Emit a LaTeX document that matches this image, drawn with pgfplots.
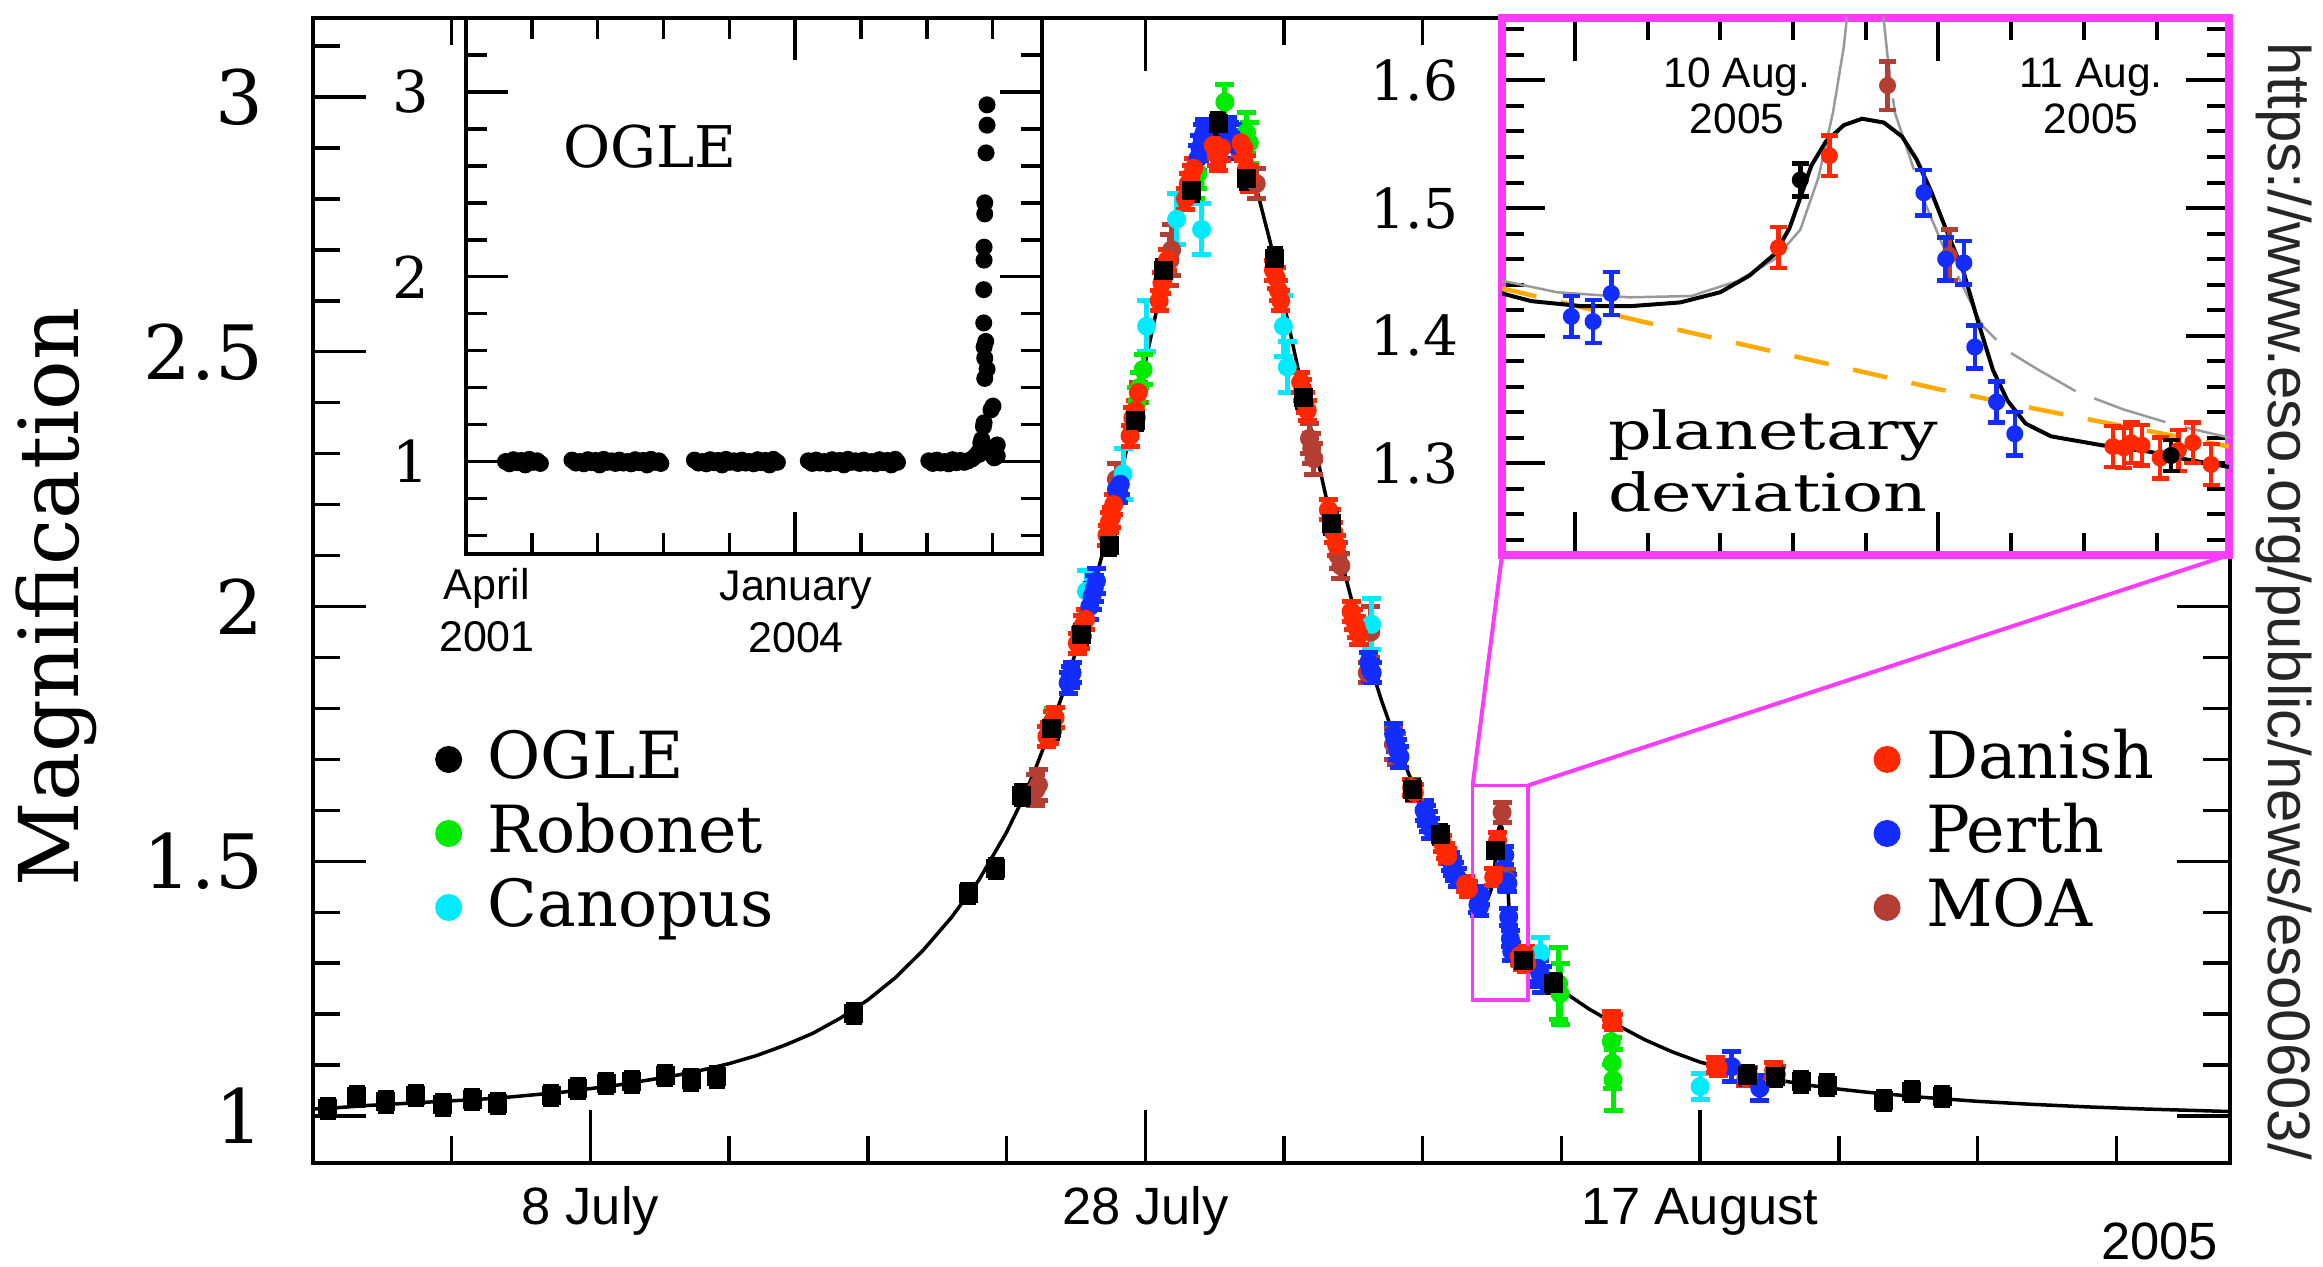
\documentclass[border=0pt]{standalone}
\usepackage{fontspec}
\setmainfont{DejaVu Serif}
\newfontfamily\sans{Liberation Sans}
\newfontfamily\wideserif[FakeStretch=1.3]{DejaVu Serif}
\usepackage{pgfplots}
\usepackage{pgfplotstable}
\pgfplotsset{compat=1.18}
\newcommand{\fsz}[2]{\fontsize{#1}{#2}\selectfont}
\definecolor{cDan}{RGB}{255,40,0}
\definecolor{cPer}{RGB}{20,45,255}
\definecolor{cMOA}{RGB}{180,62,52}
\definecolor{cRob}{RGB}{0,235,0}
\definecolor{cCan}{RGB}{0,235,255}
\definecolor{cPink}{RGB}{250,60,250}
\definecolor{cOra}{RGB}{255,170,0}
\pgfplotsset{
  /pgf/number format/assume math mode=true,
  ds/.style n args={5}{only marks, mark=#2, mark size=#3, color=#1,
    mark options={solid, fill=#1, draw=#1},
    error bars/.cd, y dir=both, y explicit,
    error bar style={line width=#5, color=#1, solid},
    error mark options={rotate=90, mark size=#4, line width=#5, color=#1}},
}
\pgfplotstableread{
x y
550 1.014
551 1.017
552 1.021
553 1.024
554 1.027
555 1.030
556 1.033
557 1.037
558 1.042
559 1.047
560 1.054
561 1.061
562 1.070
563 1.079
564 1.090
565 1.103
566 1.119
567 1.139
568 1.162
569 1.192
570 1.228
571 1.272
572 1.326
573 1.389
574 1.463
575 1.557
575.5 1.613
576 1.676
576.5 1.747
577 1.825
577.5 1.912
578 2.008
578.5 2.113
579 2.228
579.5 2.351
580 2.478
580.5 2.605
581 2.725
581.5 2.829
582 2.906
582.4 2.940
582.75 2.951
583.1 2.938
583.5 2.900
584 2.822
584.5 2.716
585 2.595
585.5 2.468
586 2.341
586.5 2.219
587 2.104
587.5 2.000
588 1.905
588.5 1.818
589 1.741
589.5 1.671
590 1.609
590.5 1.553
591 1.503
591.5 1.458
591.8 1.433
591.88 1.427
592.02 1.423
592.15 1.423
592.29 1.426
592.40 1.434
592.48 1.447
592.55 1.464
592.59 1.484
592.62 1.508
592.65 1.533
592.69 1.552
592.74 1.565
592.79 1.570
592.85 1.567
592.90 1.556
592.94 1.538
592.98 1.513
593.02 1.484
593.07 1.449
593.11 1.410
593.15 1.373
593.19 1.349
593.24 1.331
593.31 1.321
593.45 1.314
593.58 1.309
593.68 1.303
593.80 1.297
594 1.288
594.5 1.268
595 1.247
596 1.210
597 1.179
598 1.150
599 1.126
600 1.106
601 1.092
602 1.080
603 1.069
604 1.060
605 1.053
606 1.047
607 1.042
608 1.037
610 1.029
612 1.023
614 1.018
616 1.014
619.1 1.009
}\curve
\pgfplotstableread{
x y e
550.53 1.015 0.018
551.58 1.038 0.018
552.63 1.028 0.018
553.71 1.041 0.018
554.68 1.022 0.018
555.74 1.033 0.018
556.66 1.025 0.018
558.59 1.041 0.018
559.55 1.054 0.018
560.57 1.064 0.018
561.49 1.067 0.018
562.69 1.080 0.018
563.63 1.071 0.018
564.55 1.077 0.018
569.49 1.202 0.018
573.61 1.437 0.018
574.61 1.486 0.018
575.54 1.630 0.018
576.62 1.760 0.018
577.70 1.945 0.018
578.70 2.120 0.018
579.65 2.365 0.018
580.65 2.660 0.02
581.67 2.817 0.02
582.63 2.948 0.02
583.65 2.840 0.02
584.67 2.683 0.02
585.70 2.411 0.02
586.70 2.163 0.02
589.65 1.640 0.018
590.63 1.552 0.018
592.62 1.522 0.013
593.64 1.306 0.012
594.72 1.260 0.018
601.69 1.080 0.018
602.70 1.078 0.018
603.64 1.067 0.018
604.58 1.061 0.018
606.61 1.031 0.018
607.63 1.048 0.018
608.72 1.038 0.018
}\ogle
\pgfplotstableread{
x y e
576.45 1.745 0.02
576.55 1.752 0.02
576.65 1.774 0.02
576.75 1.782 0.02
577.55 1.928 0.02
577.65 1.937 0.02
577.75 1.962 0.02
577.85 1.975 0.02
578.62 2.140 0.02
578.70 2.165 0.02
578.78 2.175 0.02
578.86 2.200 0.02
579.45 2.335 0.02
579.55 2.370 0.02
579.65 2.385 0.02
579.75 2.420 0.02
580.50 2.600 0.02
580.60 2.635 0.02
580.70 2.650 0.02
580.80 2.680 0.02
581.45 2.800 0.02
581.55 2.830 0.02
581.65 2.845 0.02
581.75 2.860 0.02
582.45 2.905 0.025
582.55 2.890 0.025
582.65 2.880 0.025
582.75 2.900 0.025
583.45 2.910 0.025
583.55 2.900 0.025
583.65 2.860 0.025
583.75 2.840 0.025
584.62 2.660 0.02
584.72 2.645 0.02
584.80 2.620 0.02
584.88 2.600 0.02
585.60 2.440 0.02
585.68 2.425 0.02
585.76 2.400 0.02
585.84 2.385 0.02
586.60 2.190 0.02
586.70 2.170 0.02
586.80 2.145 0.02
586.90 2.120 0.02
587.42 1.990 0.02
587.50 1.975 0.02
587.60 1.960 0.02
587.70 1.945 0.02
589.60 1.645 0.015
589.70 1.635 0.015
590.72 1.535 0.015
590.82 1.520 0.015
590.90 1.510 0.015
591.55 1.455 0.015
591.65 1.445 0.015
592.56 1.469 0.016
592.70 1.541 0.016
593.48 1.313 0.016
593.51 1.312 0.016
593.53 1.316 0.016
593.56 1.314 0.016
593.61 1.304 0.016
593.66 1.310 0.016
593.70 1.316 0.016
593.75 1.299 0.016
596.80 1.190 0.015
596.86 1.185 0.015
600.55 1.100 0.015
600.65 1.095 0.015
601.65 1.075 0.015
601.75 1.080 0.015
602.65 1.090 0.015
602.75 1.082 0.015
}\danish
\pgfplotstableread{
x y e
577.22 1.850 0.02
577.30 1.862 0.02
577.36 1.870 0.02
578.00 2.000 0.025
578.08 2.020 0.025
578.16 2.035 0.025
578.24 2.050 0.025
578.96 2.230 0.02
579.04 2.225 0.02
579.10 2.240 0.02
581.90 2.880 0.025
581.97 2.900 0.025
582.05 2.920 0.025
582.12 2.930 0.025
582.95 2.935 0.025
583.05 2.925 0.025
583.15 2.920 0.025
583.25 2.905 0.025
588.05 1.890 0.02
588.12 1.875 0.02
588.18 1.870 0.02
588.95 1.750 0.02
589.02 1.735 0.02
589.10 1.720 0.02
589.18 1.705 0.02
590.05 1.600 0.02
590.12 1.590 0.02
590.20 1.578 0.02
590.28 1.565 0.02
591.00 1.500 0.018
591.08 1.490 0.018
591.16 1.480 0.018
591.24 1.468 0.018
591.99 1.415 0.016
592.05 1.411 0.017
592.10 1.433 0.017
592.96 1.512 0.018
593.02 1.460 0.017
593.07 1.457 0.017
593.10 1.391 0.017
593.16 1.348 0.016
593.21 1.323 0.017
594.15 1.290 0.025
594.22 1.280 0.025
594.30 1.268 0.025
601.14 1.097 0.03
602.15 1.055 0.025
}\perth
\pgfplotstableread{
x y e
576.70 1.780 0.02
579.70 2.400 0.03
579.80 2.430 0.03
579.92 2.465 0.03
581.80 2.830 0.03
581.90 2.850 0.03
582.87 2.990 0.035
583.65 2.930 0.04
583.75 2.910 0.04
594.90 1.260 0.07
594.95 1.240 0.06
596.80 1.146 0.045
596.83 1.104 0.05
596.86 1.071 0.06
}\robonet
\pgfplotstableread{
x y e
577.88 2.030 0.04
579.20 2.260 0.05
580.05 2.550 0.05
581.13 2.760 0.05
582.03 2.740 0.05
584.98 2.550 0.06
585.12 2.470 0.05
588.16 1.965 0.05
594.25 1.320 0.03
600.00 1.058 0.025
}\canopus
\pgfplotstableread{
x y e
576.05 1.640 0.03
576.15 1.650 0.03
578.96 2.250 0.03
580.89 2.680 0.05
580.95 2.700 0.05
584.00 2.830 0.03
585.92 2.330 0.03
586.00 2.310 0.03
586.08 2.290 0.03
586.95 2.100 0.025
587.05 2.080 0.025
588.00 1.870 0.02
588.13 1.950 0.05
588.95 1.730 0.03
589.05 1.720 0.03
592.86 1.596 0.019
593.03 1.463 0.02
}\moa
\pgfplotstableread{
x y
2120 1.000
2132 0.988
2144 1.010
2156 0.994
2168 1.006
2180 0.982
2192 1.012
2204 0.996
2216 1.004
2226 0.990
2322 1.008
2334 0.992
2346 1.000
2358 0.988
2370 1.010
2382 0.994
2394 1.006
2406 0.982
2418 1.012
2430 0.996
2442 1.004
2454 0.990
2466 1.008
2478 0.992
2490 1.000
2502 0.988
2514 1.010
2526 0.994
2538 1.006
2550 0.982
2562 1.012
2574 0.996
2586 1.004
2592 0.990
2694 1.008
2706 0.992
2718 1.000
2730 0.988
2742 1.010
2754 0.994
2766 1.006
2778 0.982
2790 1.012
2802 0.996
2814 1.004
2826 0.990
2838 1.008
2850 0.992
2862 1.000
2874 0.988
2886 1.010
2898 0.994
2910 1.006
2922 0.982
2934 1.012
2946 0.996
3040 1.004
3052 0.990
3064 1.008
3076 0.992
3088 1.000
3100 0.988
3112 1.010
3124 0.994
3136 1.006
3148 0.982
3160 1.012
3172 0.996
3184 1.004
3196 0.990
3208 1.008
3220 0.992
3232 1.000
3244 0.988
3256 1.010
3268 0.994
3280 1.006
3292 0.982
3304 1.012
3311 0.996
3406 1.004
3418 0.990
3430 1.008
3442 0.992
3454 1.000
3466 0.988
3478 1.010
3490 0.994
3502 1.006
3514 0.996
3526 1.004
3538 1.015
3548 1.030
3557 1.05
3560 1.04
3564 1.10
3567 1.12
3570 1.08
3572 1.19
3573 1.75
3573 1.93
3574 1.21
3574 1.62
3574 2.09
3574 2.16
3576 1.45
3576 1.56
3576 2.34
3576 2.40
3579 1.65
3580 2.67
3583 1.50
3583 2.82
3583 2.93
3595 1.28
3601 1.30
3601 1.07
3601 1.03
3605 1.02
3610 1.05
3614 1.09
3614 1.03
}\oglelong
\begin{document}
\begin{tikzpicture}
\useasboundingbox (0,0) rectangle (464.6pt,253.4pt);
% ---------------- main axis
\begin{axis}[
  at={(62.6pt,20.8pt)}, anchor=south west, scale only axis,
  width=383.4pt, height=229pt,
  xmin=550, xmax=619.1, ymin=0.908, ymax=3.155,
  axis line style={line width=0.75pt},
  tick style={line width=0.7pt, black},
  tick align=inside, tick pos=both,
  major tick length=10.6pt, minor tick length=5.4pt,
  xtick={560,580,600}, xticklabels={8 July,28 July,17 August},
  minor xtick={555,565,570,575,585,590,595,605,610,615},
  ytick={1,1.5,2,2.5,3},
  minor ytick={1.1,1.2,1.3,1.4,1.6,1.7,1.8,1.9,2.1,2.2,2.3,2.4,2.6,2.7,2.8,2.9,3.1},
  xticklabel style={font=\sans\fsz{10.5}{12}, anchor=base, inner sep=0pt, yshift=-12.4pt},
  yticklabel style={font=\fsz{15}{18}, anchor=east, inner sep=0pt, xshift=-9.8pt},
]
\addplot[black, line width=0.7pt] table[x=x,y=y]{\curve};
\addplot[ds={cMOA}{*}{1.7pt}{1.9pt}{1pt}] table[x=x,y=y,y error=e]{\moa};
\addplot[ds={cCan}{*}{1.7pt}{1.9pt}{1pt}] table[x=x,y=y,y error=e]{\canopus};
\addplot[ds={cRob}{*}{1.7pt}{1.9pt}{1pt}] table[x=x,y=y,y error=e]{\robonet};
\addplot[ds={cPer}{*}{1.7pt}{1.9pt}{1pt}] table[x=x,y=y,y error=e]{\perth};
\addplot[ds={cDan}{*}{1.7pt}{1.9pt}{1pt}] table[x=x,y=y,y error=e]{\danish};
\addplot[ds={black}{square*}{1.7pt}{1.6pt}{1pt}] table[x=x,y=y,y error=e]{\ogle};
\draw[cPink, line width=0.7pt] (axis cs:591.8,1.228) rectangle (axis cs:593.8,1.649);
\coordinate (hl1) at (axis cs:591.8,1.649);
\coordinate (hl2) at (axis cs:593.8,1.649);
\end{axis}
% ---------------- OGLE long-term inset
\begin{axis}[
  at={(93.2pt,142.6pt)}, anchor=south west, scale only axis,
  width=115.2pt, height=107.2pt,
  xmin=2000, xmax=3750, ymin=0.5, ymax=3.4,
  axis background/.style={fill=white},
  axis line style={line width=0.7pt},
  tick style={line width=0.7pt, black},
  tick align=inside, tick pos=both,
  major tick length=8.4pt, minor tick length=4.2pt,
  xtick={3000}, xticklabels={{}},
  minor xtick={2200,2400,2600,2800,3200,3400,3600},
  ytick={1,2,3},
  minor ytick={0.6,0.8,1.2,1.4,1.6,1.8,2.2,2.4,2.6,2.8,3.2},
  yticklabel style={font=\fsz{11.5}{14}, anchor=east, inner sep=0pt, xshift=-7.2pt},
]
\addplot[only marks, mark=*, mark size=1.5pt, black] table[x=x,y=y]{\oglelong};
\node[font=\fsz{11.5}{14}] at (axis cs:2559,2.705) {OGLE};
\end{axis}
% ---------------- planetary deviation inset
\begin{axis}[
  at={(300.4pt,142.4pt)}, anchor=south west, scale only axis,
  width=145.4pt, height=107.4pt,
  xmin=591.8, xmax=593.8, ymin=1.228, ymax=1.649,
  axis background/.style={fill=white},
  axis line style={cPink, line width=1.5pt},
  tick style={line width=0.8pt, black},
  tick align=inside, tick pos=both,
  major tick length=8.6pt, minor tick length=4.4pt,
  xtick={592,593}, xticklabels={{},{}},
  minor xtick={592.2,592.4,592.6,592.8,593.2,593.4,593.6},
  ytick={1.3,1.4,1.5,1.6},
  minor ytick={1.24,1.26,1.28,1.32,1.34,1.36,1.38,1.42,1.44,1.46,1.48,1.52,1.54,1.56,1.58,1.62,1.64},
  yticklabel style={font=\fsz{11}{13}, anchor=east, inner sep=0pt, xshift=-8.6pt},
]
\addplot[cOra, line width=0.9pt, dash pattern=on 7pt off 5pt] coordinates {
 (591.8,1.437) (592.2,1.410) (592.6,1.384) (593.0,1.358) (593.4,1.335) (593.8,1.313)};
\addplot[black!40, line width=0.5pt] coordinates {
 (591.8,1.443) (591.95,1.434) (592.15,1.430) (592.32,1.431) (592.45,1.443) (592.55,1.460)
 (592.62,1.483) (592.67,1.524) (592.71,1.575) (592.74,1.627) (592.752,1.66)};
\addplot[black!40, line width=0.5pt, dash pattern=on 15pt off 4pt] coordinates {
 (592.845,1.66) (592.86,1.619) (592.88,1.575) (592.92,1.541) (592.96,1.506) (593.01,1.472)
 (593.07,1.437) (593.12,1.408) (593.19,1.388) (593.27,1.374) (593.38,1.356) (593.51,1.342)
 (593.65,1.330) (593.80,1.320)};
\addplot[black, line width=0.8pt] table[x=x,y=y]{\curve};
\addplot[ds={cMOA}{*}{1.5pt}{1.7pt}{0.9pt}] table[x=x,y=y,y error=e]{\moa};
\addplot[ds={cPer}{*}{1.5pt}{1.7pt}{0.9pt}] table[x=x,y=y,y error=e]{\perth};
\addplot[ds={cDan}{*}{1.5pt}{1.7pt}{0.9pt}] table[x=x,y=y,y error=e]{\danish};
\addplot[ds={black}{*}{1.5pt}{1.7pt}{0.9pt}] table[x=x,y=y,y error=e]{\ogle};
\node[font=\sans\fsz{8.5}{9.2}, align=center] at (axis cs:592.446,1.588) {10 Aug.\\2005};
\node[font=\sans\fsz{8.5}{9.2}, align=center] at (axis cs:593.42,1.588) {11 Aug.\\2005};
\node[font=\wideserif\fsz{10.5}{12.4}, align=left, anchor=west, inner sep=0pt] at (axis cs:592.089,1.3016) {planetary\\deviation};
\coordinate (pbl) at (rel axis cs:0,0);
\coordinate (pbr) at (rel axis cs:1,0);
\end{axis}
% ---------------- legends
\begin{axis}[
  at={(62.6pt,20.8pt)}, anchor=south west, scale only axis,
  width=383.4pt, height=229pt, hide axis, xmin=0, xmax=1, ymin=0, ymax=1,
  legend style={at={(0.0632,0.3856)}, anchor=north west, draw=none, fill=none,
    inner sep=0pt, font=\fsz{13}{15}, row sep=0pt, column sep=3.1pt,
    cells={anchor=west, inner sep=0pt, text height=9.3pt, text depth=6.9pt}},
]
\addlegendimage{legend image code/.code={\fill[black] (0pt,0pt) circle (2.5pt);}}
\addlegendentry{OGLE}
\addlegendimage{legend image code/.code={\fill[cRob] (0pt,0pt) circle (2.5pt);}}
\addlegendentry{Robonet}
\addlegendimage{legend image code/.code={\fill[cCan] (0pt,0pt) circle (2.5pt);}}
\addlegendentry{Canopus}
\end{axis}
\begin{axis}[
  at={(62.6pt,20.8pt)}, anchor=south west, scale only axis,
  width=383.4pt, height=229pt, hide axis, xmin=0, xmax=1, ymin=0, ymax=1,
  legend style={at={(0.8135,0.3856)}, anchor=north west, draw=none, fill=none,
    inner sep=0pt, font=\fsz{13}{15}, row sep=0pt, column sep=3.1pt,
    cells={anchor=west, inner sep=0pt, text height=9.3pt, text depth=6.9pt}},
]
\addlegendimage{legend image code/.code={\fill[cDan] (0pt,0pt) circle (2.5pt);}}
\addlegendentry{Danish}
\addlegendimage{legend image code/.code={\fill[cPer] (0pt,0pt) circle (2.5pt);}}
\addlegendentry{Perth}
\addlegendimage{legend image code/.code={\fill[cMOA] (0pt,0pt) circle (2.5pt);}}
\addlegendentry{MOA}
\end{axis}
% ---------------- connectors and free labels
\draw[cPink, line width=0.8pt] (hl1) -- (pbl);
\draw[cPink, line width=0.8pt] (hl2) -- (pbr);
\node[font=\sans\fsz{8.6}{10.4}, align=center, anchor=north, inner sep=0pt] at (97.4pt,140pt) {April\\2001};
\node[font=\sans\fsz{8.6}{10.4}, align=center, anchor=north, inner sep=0pt] at (159.2pt,139.4pt) {January\\2004};
\node[font=\fsz{16.5}{20}, rotate=90, inner sep=0pt] at (11.2pt,134pt) {Magnification};
\node[font=\sans\fsz{10.5}{12}, anchor=base east, inner sep=0pt] at (443.8pt,1.4pt) {2005};
\node[font=\sans\fsz{12}{14}, rotate=-90, inner sep=0pt, text=black!85] at (456.8pt,133.1pt) {https://www.eso.org/public/news/eso0603/};
\end{tikzpicture}
\end{document}
